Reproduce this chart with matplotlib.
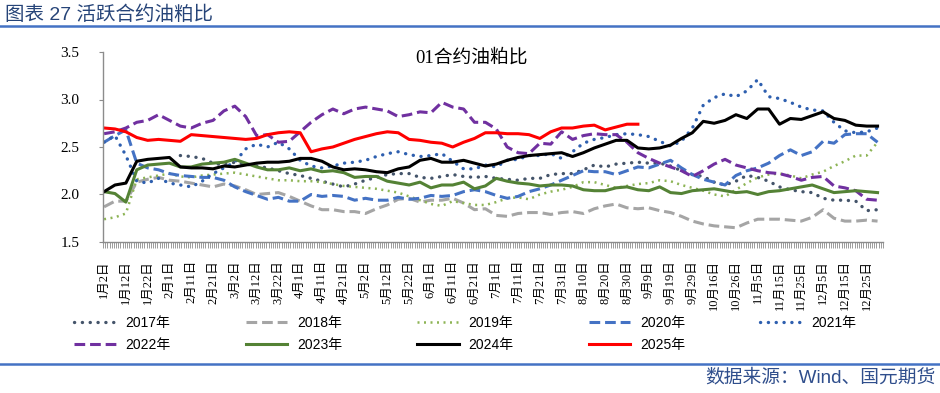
import numpy as np
import matplotlib
import matplotlib.pyplot as plt

matplotlib.use('Agg')

nan = float('nan')

# category axis: trading-calendar days, label every 10th day
date_labels = ['1月2日', '1月12日', '1月22日', '2月1日', '2月11日', '2月21日', '3月2日', '3月12日',
               '3月22日', '4月1日', '4月11日', '4月21日', '5月2日', '5月12日', '5月22日', '6月1日',
               '6月11日', '6月21日', '7月1日', '7月11日', '7月21日', '7月31日', '8月10日', '8月20日',
               '8月30日', '9月9日', '9月19日', '9月29日', '10月16日', '10月26日', '11月5日', '11月15日',
               '11月25日', '12月5日', '12月15日', '12月25日']
LABEL_STEP = 10
N_DAYS = 358
sample_days = np.arange(0, 360, 5)

y2017 = [nan, nan, nan, nan, nan, nan, nan, 2.41, 2.40, 2.38,
         2.33, 2.31, 2.34, 2.32, 2.30, 2.28, 2.25, 2.22, 2.20, 2.17,
         2.14, 2.11, 2.08, 2.11, 2.15, 2.18, 2.21, 2.22, 2.22, 2.18,
         2.17, 2.19, 2.21, 2.19, 2.18, 2.19, 2.17, 2.16, 2.15, 2.17,
         2.17, 2.21, 2.22, 2.22, 2.26, 2.31, 2.29, 2.32, 2.33, 2.34,
         2.33, 2.33, 2.30, 2.25, 2.21, 2.19, 2.13, 2.10, 2.14, 2.20,
         2.18, 2.14, 2.08, 2.05, 2.03, 2.02, 1.96, 1.94, 1.94, 1.93,
         1.83, 1.84]
y2018 = [1.87, 1.93, 1.93, 2.13, 2.16, 2.18, 2.15, 2.14, 2.12, 2.10,
         2.08, 2.11, 2.09, 2.05, 2.00, 2.01, 2.02, 1.98, 1.93, 1.88,
         1.84, 1.84, 1.82, 1.82, 1.80, 1.85, 1.89, 1.95, 1.96, 1.92,
         1.94, 1.94, 1.96, 1.91, 1.84, 1.85, 1.78, 1.77, 1.80, 1.81,
         1.81, 1.79, 1.81, 1.82, 1.80, 1.85, 1.88, 1.90, 1.86, 1.85,
         1.86, 1.83, 1.81, 1.77, 1.72, 1.69, 1.67, 1.66, 1.65, 1.70,
         1.74, 1.74, 1.74, 1.73, 1.72, 1.76, 1.84, 1.75, 1.72, 1.72,
         1.73, 1.72]
y2019 = [1.74, 1.76, 1.80, 2.16, 2.18, 2.20, 2.22, 2.19, 2.18, 2.20,
         2.21, 2.22, 2.23, 2.21, 2.19, 2.17, 2.15, 2.15, 2.14, 2.14,
         2.13, 2.11, 2.09, 2.08, 2.07, 2.06, 2.04, 2.02, 1.98, 1.94,
         1.90, 1.88, 1.93, 1.91, 1.89, 1.89, 1.92, 1.96, 1.97, 1.95,
         2.00, 2.03, 2.05, 2.08, 2.13, 2.13, 2.10, 2.07, 2.09, 2.11,
         2.12, 2.15, 2.14, 2.10, 2.07, 2.04, 2.00, 1.98, 2.05, 2.12,
         2.18, 2.21, 2.22, 2.20, 2.17, 2.21, 2.24, 2.30, 2.35, 2.41,
         2.41, 2.55]
y2020 = [2.55, 2.62, 2.68, 2.33, 2.28, 2.26, 2.22, 2.20, 2.19, 2.18,
         2.18, 2.15, 2.08, 2.03, 1.99, 1.95, 1.97, 1.93, 1.93, 2.00,
         1.98, 1.99, 1.98, 1.94, 1.96, 1.94, 1.94, 1.97, 1.95, 1.96,
         1.99, 1.98, 1.99, 2.03, 2.05, 2.03, 1.99, 1.96, 1.98, 2.03,
         2.06, 2.10, 2.15, 2.20, 2.25, 2.24, 2.24, 2.21, 2.25, 2.29,
         2.28, 2.32, 2.36, 2.28, 2.21, 2.16, 2.13, 2.10, 2.20, 2.25,
         2.28, 2.33, 2.41, 2.47, 2.41, 2.45, 2.56, 2.54, 2.63, 2.64,
         2.64, 2.55]
y2021 = [2.55, 2.62, 2.41, 2.14, 2.12, 2.17, 2.12, 2.10, 2.08, 2.14,
         2.22, 2.28, 2.34, 2.48, 2.53, 2.50, 2.55, 2.48, 2.36, 2.30,
         2.28, 2.30, 2.33, 2.34, 2.36, 2.40, 2.43, 2.45, 2.42, 2.40,
         2.41, 2.43, 2.35, 2.27, 2.27, 2.31, 2.29, 2.36, 2.37, 2.41,
         2.41, 2.43, 2.38, 2.45, 2.54, 2.58, 2.60, 2.63, 2.64, 2.63,
         2.61, 2.56, 2.51, 2.56, 2.70, 2.94, 3.02, 3.06, 3.03, 3.09,
         3.21, 3.03, 3.01, 2.97, 2.92, 2.89, 2.88, 2.76, 2.67, 2.65,
         2.66, 2.70]
y2022 = [2.64, 2.66, 2.70, 2.76, 2.78, 2.84, 2.78, 2.72, 2.70, 2.75,
         2.78, 2.88, 2.93, 2.82, 2.62, 2.63, 2.55, 2.56, 2.66, 2.76,
         2.84, 2.90, 2.85, 2.90, 2.92, 2.90, 2.88, 2.82, 2.84, 2.87,
         2.86, 2.97, 2.92, 2.90, 2.76, 2.76, 2.69, 2.50, 2.44, 2.43,
         2.54, 2.53, 2.66, 2.58, 2.62, 2.64, 2.63, 2.63, 2.55, 2.44,
         2.38, 2.33, 2.29, 2.25, 2.19, 2.25, 2.32, 2.37, 2.31, 2.28,
         2.25, 2.23, 2.22, 2.19, 2.15, 2.18, 2.19, 2.09, 2.07, 2.04,
         1.95, 1.94]
y2023 = [2.03, 2.01, 1.92, 2.26, 2.31, 2.32, 2.33, 2.29, 2.29, 2.32,
         2.33, 2.34, 2.37, 2.33, 2.29, 2.26, 2.26, 2.28, 2.25, 2.27,
         2.24, 2.25, 2.23, 2.18, 2.19, 2.19, 2.14, 2.12, 2.10, 2.13,
         2.07, 2.10, 2.10, 2.13, 2.06, 2.09, 2.17, 2.14, 2.12, 2.11,
         2.09, 2.10, 2.10, 2.09, 2.05, 2.04, 2.04, 2.07, 2.08, 2.05,
         2.04, 2.08, 2.02, 2.01, 2.04, 2.05, 2.06, 2.04, 2.02, 2.03,
         2.00, 2.03, 2.04, 2.06, 2.08, 2.10, 2.06, 2.02, 2.03, 2.04,
         2.03, 2.02]
y2024 = [2.03, 2.10, 2.12, 2.35, 2.37, 2.38, 2.39, 2.29, 2.28, 2.28,
         2.27, 2.30, 2.29, 2.31, 2.33, 2.34, 2.34, 2.35, 2.38, 2.38,
         2.35, 2.29, 2.26, 2.27, 2.26, 2.24, 2.23, 2.27, 2.29, 2.36,
         2.38, 2.34, 2.34, 2.36, 2.33, 2.30, 2.32, 2.36, 2.39, 2.41,
         2.42, 2.43, 2.44, 2.40, 2.44, 2.49, 2.53, 2.57, 2.57, 2.49,
         2.48, 2.49, 2.52, 2.59, 2.65, 2.77, 2.75, 2.78, 2.84, 2.80,
         2.90, 2.90, 2.74, 2.80, 2.79, 2.83, 2.87, 2.80, 2.78, 2.73,
         2.72, 2.72]
y2025 = [2.70, 2.69, 2.66, 2.60, 2.57, 2.58, 2.57, 2.56, 2.63, 2.62,
         2.61, 2.60, 2.59, 2.58, 2.59, 2.63, 2.65, 2.66, 2.65, 2.45,
         2.48, 2.50, 2.54, 2.58, 2.61, 2.64, 2.66, 2.65, 2.58, 2.57,
         2.55, 2.54, 2.50, 2.55, 2.59, 2.65, 2.65, 2.64, 2.64, 2.63,
         2.59, 2.66, 2.70, 2.70, 2.72, 2.73, 2.68, 2.71, 2.74, 2.74]

years = ['2017年', '2018年', '2019年', '2020年', '2021年', '2022年', '2023年', '2024年', '2025年']
series = [y2017, y2018, y2019, y2020, y2021, y2022, y2023, y2024, y2025]

DOT = (0, (0.05, 2.3))
DASH = (0, (3.5, 1.6))
styles = [
    dict(color='#44546A', ls=DOT, lw=2.4, dash_capstyle='round'),
    dict(color='#A5A5A5', ls=DASH, lw=2.2),
    dict(color='#8DB455', ls=(0, (0.8, 1.8)), lw=1.8),
    dict(color='#4472C4', ls=DASH, lw=2.2),
    dict(color='#2E5FAF', ls=DOT, lw=2.4, dash_capstyle='round'),
    dict(color='#7030A0', ls=DASH, lw=2.2),
    dict(color='#548235', ls='-', lw=2.2),
    dict(color='#000000', ls='-', lw=2.2),
    dict(color='#FF0000', ls='-', lw=2.2),
]

CJK_SERIF = ['Liberation Serif', 'Noto Sans CJK SC']
CJK_SANS = ['Liberation Sans', 'Noto Sans CJK SC']

fig = plt.figure(figsize=(9.4, 3.93), dpi=100)
ax = fig.add_axes([103 / 940, 1 - 242 / 393, 780 / 940, 190 / 393])

lines = []
for name, vals, st in zip(years, series, styles):
    ln, = ax.plot(sample_days[:len(vals)], vals, label=name, **st)
    lines.append(ln)

ax.set_xlim(-0.5, N_DAYS - 0.5)
ax.set_ylim(1.5, 3.5)
ax.set_yticks([1.5, 2.0, 2.5, 3.0, 3.5])
ax.set_yticklabels(['%.1f' % v for v in [1.5, 2.0, 2.5, 3.0, 3.5]], family=CJK_SERIF, fontsize=11)
ax.set_xticks(np.arange(len(date_labels)) * LABEL_STEP)
ax.set_xticklabels(date_labels, rotation=90, family=CJK_SERIF, fontsize=9)
ax.set_xticks(np.arange(N_DAYS + 1) - 0.5, minor=True)

for s in ['top', 'right']:
    ax.spines[s].set_visible(False)
for s in ['left', 'bottom']:
    ax.spines[s].set_color('#8C8C8C')
    ax.spines[s].set_linewidth(1.0)
ax.tick_params(axis='y', direction='out', length=3, color='#8C8C8C', pad=14)
ax.tick_params(axis='x', which='major', length=0, pad=13)
ax.tick_params(axis='x', which='minor', direction='out', length=4, width=0.6, color='#8C8C8C')

fig.text(472 / 940, 1 - 58 / 393, '01合约油粕比', family=CJK_SERIF, fontsize=13.5,
         ha='center', va='center')

# legend is filled column by column, so interleave to read row by row
order = [0, 5, 1, 6, 2, 7, 3, 8, 4]
fig.legend([lines[i] for i in order], [years[i] for i in order],
           loc='upper left', bbox_to_anchor=(74 / 940, 1 - 316 / 393), ncol=5, frameon=False,
           prop={'family': CJK_SANS, 'size': 10}, handlelength=3.0, handletextpad=0.7,
           columnspacing=5.4, labelspacing=0.55, borderpad=0, borderaxespad=0)

# header / footer
fig.text(5 / 940, 1 - 15 / 393, '图表 27 活跃合约油粕比', family=CJK_SANS, fontsize=14,
         color='#264478', ha='left', va='center')
fig.add_artist(plt.Line2D([0, 1], [1 - 26 / 393] * 2, color='#4472C4', lw=1.8))
fig.add_artist(plt.Line2D([0, 1], [1 - 364 / 393] * 2, color='#4472C4', lw=1.8))
fig.text(935 / 940, 1 - 378 / 393, '数据来源：Wind、国元期货', family=CJK_SANS, fontsize=13.5,
         color='#2F4E8C', ha='right', va='center')

fig.savefig('out.png', dpi=100)
